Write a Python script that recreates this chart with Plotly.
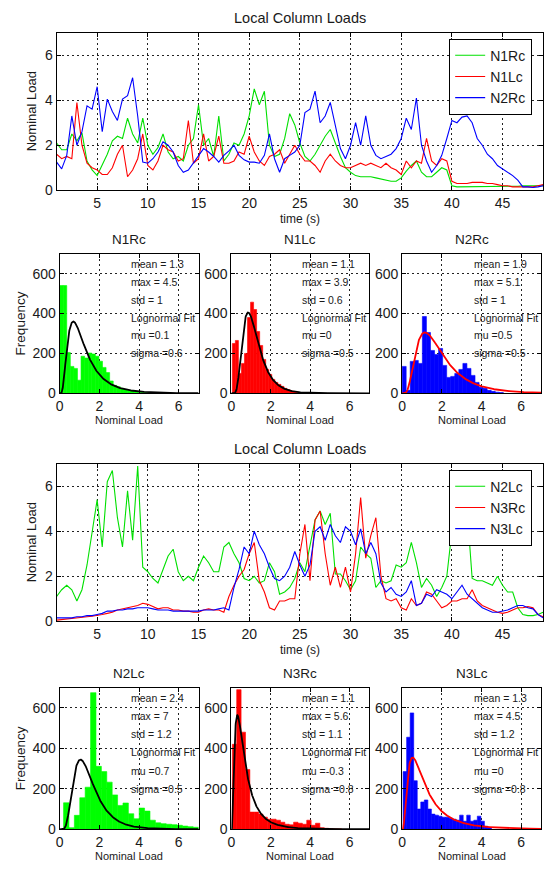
import numpy as np
import plotly.graph_objects as go

W, H = 556, 870
FONT = "Liberation Sans, Arial, sans-serif"
TXT = "#1a1a1a"

# ---------------- time series data (sampled every 0.5 s from t=1 to t=49) ----------------
time_s = [1.0 + 0.5 * i for i in range(97)]

n1rc = [2.1, 1.8, 1.8, 2.5, 2.2, 2.55, 1.3, 0.9, 0.65, 1.1,
        1.6, 2.2, 2.4, 2.3, 3.2, 2.5, 2.1, 3.2, 2.0, 1.6,
        1.9, 2.5, 1.7, 1.4, 1.5, 1.3, 2.0, 2.3, 3.8, 2.0,
        2.3, 1.5, 3.3, 1.3, 1.6, 2.1, 2.0, 2.5, 3.3, 4.5,
        3.8, 4.4, 2.0, 1.5, 1.6, 2.3, 3.4, 2.9, 2.1, 1.5,
        1.3, 1.6, 2.0, 2.4, 2.7, 2.1, 1.5, 1.0, 0.8, 0.65,
        0.6, 0.6, 0.6, 0.55, 0.5, 0.45, 0.4, 0.4, 0.55, 0.85,
        1.1, 1.3, 0.8, 0.6, 0.6, 0.8, 1.0, 0.9, 0.2, 0.15,
        0.15, 0.15, 0.15, 0.15, 0.15, 0.15, 0.15, 0.15, 0.15, 0.15,
        0.15, 0.18, 0.2, 0.2, 0.2, 0.2, 0.2]

n1lc = [1.6, 1.4, 1.5, 1.4, 3.9, 2.0, 1.2, 1.0, 0.9, 0.7,
        0.7, 1.0, 1.6, 2.0, 0.6, 0.9, 1.4, 2.5, 1.1, 0.9,
        1.3, 2.0, 1.8, 1.7, 1.3, 1.4, 3.1, 1.2, 1.4, 2.5,
        1.3, 1.5, 2.4, 1.2, 1.2, 1.3, 1.7, 1.6, 2.4, 1.7,
        1.3, 1.1, 1.5, 1.6, 1.8, 1.2, 1.6, 2.0, 1.6, 1.3,
        1.3, 1.1, 0.8, 1.3, 1.6, 1.3, 1.1, 1.0, 1.0, 1.1,
        1.2, 1.1, 1.2, 1.1, 1.0, 1.2, 1.0, 0.9, 0.7, 1.3,
        1.0, 1.3, 1.2, 2.3, 1.3, 1.1, 1.4, 1.3, 0.4, 0.3,
        0.3, 0.3, 0.35, 0.35, 0.35, 0.3, 0.3, 0.25, 0.2, 0.2,
        0.15, 0.15, 0.15, 0.15, 0.15, 0.2, 0.25]

n2rc = [1.25, 0.95, 1.55, 3.3, 2.0, 2.6, 3.75, 3.6, 4.6, 2.6,
        4.05, 3.5, 3.1, 4.05, 4.2, 5.0, 3.3, 1.25, 1.2, 1.4,
        1.7, 2.15, 2.0, 1.7, 1.1, 0.8, 0.9, 1.2, 1.55, 1.85,
        1.7, 1.5, 1.25, 1.55, 1.75, 2.0, 1.55, 1.35, 1.25, 1.25,
        1.2, 1.55, 2.5, 1.4, 0.8, 1.4, 1.55, 1.7, 2.0, 3.45,
        3.6, 4.4, 3.0, 3.3, 3.9, 2.9, 1.85, 1.4, 2.0, 3.0,
        2.0, 3.3, 2.0, 1.55, 1.4, 1.5, 1.6, 1.85, 2.3, 3.2,
        2.7, 4.1, 2.0, 1.3, 0.8, 1.1, 1.55, 2.3, 3.1, 3.0,
        3.25, 3.3, 3.0, 2.3, 2.0, 1.6, 1.4, 1.1, 0.95, 0.8,
        0.65, 0.45, 0.15, 0.15, 0.12, 0.15, 0.2]

n2lc = [1.1, 1.4, 1.6, 1.4, 0.9, 1.4, 2.5, 3.9, 5.4, 3.3,
        6.2, 6.7, 4.6, 3.3, 5.8, 3.6, 6.9, 2.4, 2.2, 1.9,
        1.7, 2.3, 2.9, 3.2, 2.2, 1.8, 2.0, 1.8, 2.4, 2.9,
        2.6, 2.2, 2.2, 3.3, 3.5, 3.0, 2.6, 1.9, 1.8, 2.0,
        1.7, 1.8, 2.6, 2.2, 1.2, 1.3, 1.5, 1.9, 2.6, 2.2,
        3.3, 4.5, 4.9, 4.3, 4.8, 2.1, 2.1, 1.8, 1.4, 1.8,
        3.3, 3.0, 2.8, 1.5, 1.8, 1.7, 1.8, 2.5, 2.4, 2.6,
        3.5, 2.6, 1.5, 1.9, 1.6, 1.1, 1.5, 2.0, 4.0, 5.0,
        5.5, 5.0, 1.9, 1.8, 1.8, 1.7, 1.6, 2.0, 1.6, 1.3,
        1.3, 0.6, 0.3, 0.25, 0.25, 0.3, 0.4]

n3rc = [0.05, 0.08, 0.1, 0.12, 0.15, 0.18, 0.2, 0.22, 0.25, 0.3,
        0.35, 0.4, 0.5, 0.55, 0.6, 0.65, 0.7, 0.8, 0.75, 0.65,
        0.55, 0.6, 0.6, 0.5, 0.5, 0.45, 0.45, 0.4, 0.4, 0.5,
        0.55, 0.5, 0.5, 0.4, 1.1, 1.6, 2.0, 2.3, 3.0, 3.5,
        1.8, 1.3, 0.6, 0.5, 0.9, 0.9, 1.0, 1.0, 3.0, 4.3,
        1.8, 4.5, 4.9, 3.0, 1.6, 2.4, 1.5, 2.4, 1.3, 3.0,
        5.5, 2.8, 3.8, 4.6, 2.0, 1.0, 0.9, 1.0, 0.6, 0.5,
        1.0, 0.7, 0.8, 1.3, 1.2, 0.9, 0.6, 0.7, 0.9, 0.9,
        1.0, 1.0, 1.4, 0.9, 0.7, 0.6, 0.5, 0.4, 0.35, 0.4,
        0.5, 0.6, 0.6, 0.65, 0.6, 0.3, 0.2]

n3lc = [0.15, 0.15, 0.15, 0.15, 0.2, 0.2, 0.25, 0.25, 0.3, 0.35,
        0.45, 0.45, 0.5, 0.5, 0.55, 0.55, 0.6, 0.6, 0.6, 0.55,
        0.5, 0.5, 0.5, 0.45, 0.45, 0.45, 0.45, 0.45, 0.45, 0.5,
        0.5, 0.5, 0.55, 0.6, 0.5, 1.5, 2.3, 3.3, 3.0, 4.0,
        3.4, 3.0, 2.4, 1.9, 1.8, 2.0, 2.4, 3.1, 2.5, 2.0,
        2.5, 4.0, 4.2, 3.6, 4.3, 3.8, 3.5, 4.2, 4.0, 3.4,
        4.1, 3.0, 3.5, 3.0, 1.7, 1.3, 1.5, 1.2, 1.1, 1.3,
        1.8, 0.7, 0.8, 1.2, 1.1, 1.4, 1.3, 1.2, 1.0, 1.3,
        1.6, 1.2, 1.0, 0.8, 0.6, 0.5, 0.4, 0.4, 0.45, 0.5,
        0.6, 0.7, 0.7, 0.6, 0.55, 0.3, 0.15]

group1_names = ["N1Rc", "N1Lc", "N2Rc"]
group2_names = ["N2Lc", "N3Rc", "N3Lc"]
line_colors = ["#00e000", "#ff0000", "#0000ff"]

# ---------------- histogram data (25 bins each) ----------------
hist_names = ["N1Rc", "N1Lc", "N2Rc", "N2Lc", "N3Rc", "N3Lc"]
hist_colors = ["#00ff00", "#ff0000", "#0000ff", "#00ff00", "#ff0000", "#0000ff"]
fit_colors = ["black", "black", "#ff0000", "black", "black", "#ff0000"]
bin_lo = [0.0, 0.05, 0.0, 0.2, 0.05, 0.05]
bin_hi = [4.5, 3.9, 5.1, 7.0, 5.6, 4.5]
counts = [
    [540, 540, 205, 135, 125, 66, 186, 177, 202, 197, 186, 161, 130, 104, 62, 40, 33, 25, 20, 15, 12, 10, 6, 4, 3],
    [250, 265, 100, 150, 200, 380, 457, 420, 310, 240, 170, 120, 95, 70, 55, 45, 35, 25, 18, 12, 8, 6, 4, 3, 2],
    [135, 15, 160, 165, 150, 385, 305, 215, 195, 225, 140, 80, 85, 100, 120, 150, 125, 90, 55, 30, 25, 15, 10, 6, 4],
    [131, 8, 69, 156, 208, 675, 311, 285, 233, 170, 118, 130, 77, 52, 105, 90, 45, 32, 28, 25, 23, 20, 16, 13, 10],
    [420, 690, 480, 295, 85, 85, 75, 60, 50, 50, 45, 35, 25, 22, 35, 30, 25, 45, 20, 30, 8, 5, 3, 2, 2],
    [285, 455, 575, 240, 100, 135, 145, 100, 75, 70, 65, 60, 60, 55, 50, 45, 70, 40, 70, 40, 45, 65, 40, 15, 8],
]
stat_mean = ["1.3", "1.1", "1.9", "2.4", "1.1", "1.3"]
stat_max = ["4.5", "3.9", "5.1", "7", "5.6", "4.5"]
stat_std = ["1", "0.6", "1", "1.2", "1.1", "1.2"]
fit_mu_label = ["0.1", "0", "0.5", "0.7", "-0.3", "0"]
fit_sigma_label = ["0.6", "0.5", "0.5", "0.5", "0.8", "0.8"]
# parameters of the drawn lognormal curves
curve_mu = [0.05, 0.07, 0.5, 0.3, -0.55, 0.0]
curve_sigma = [0.65, 0.48, 0.6, 0.5, 0.8, 0.8]
curve_scale = [499, 466, 632, 514, 474, 517]

line_xticks = [5, 10, 15, 20, 25, 30, 35, 40, 45]
line_yticks = [0, 2, 4, 6]
hist_xticks = [0, 2, 4, 6]
hist_yticks = [0, 200, 400, 600]

# ---------------- layout geometry (pixels) ----------------
def px_x(a, b):
    return [a / W, b / W]

def px_y(top, bottom):
    return [1 - bottom / H, 1 - top / H]

LINE_X = (53, 543)
LINE_Y = [(33, 192), (468, 627)]
HIST_X = [(56, 196), (229, 368), (401, 541)]
HIST_Y = [(256, 397), (694, 837)]

fig = go.Figure()
layout = dict(width=W, height=H, margin=dict(l=0, r=0, t=0, b=0),
              paper_bgcolor="white", plot_bgcolor="white",
              font=dict(family=FONT, color=TXT), barmode="overlay")

def axis(domain, rng, tickvals, anchor, size):
    return dict(domain=domain, range=rng, tickvals=tickvals, anchor=anchor,
                showline=True, linecolor="black", linewidth=1, mirror="ticks",
                ticks="inside", ticklen=4, tickcolor="black",
                showgrid=True, gridcolor="#222222", gridwidth=1, griddash="2px,3px",
                zeroline=False, fixedrange=True,
                tickfont=dict(family=FONT, size=size, color=TXT))

annotations = []

def ann(text, xpx, ypx, size, angle=0):
    annotations.append(dict(text=text, x=xpx / W, y=1 - ypx / H, xref="paper", yref="paper",
                            showarrow=False, textangle=angle, xanchor="center", yanchor="middle",
                            font=dict(family=FONT, size=size, color=TXT)))

# ---------------- line plots ----------------
groups = [(group1_names, [n1rc, n1lc, n2rc]), (group2_names, [n2lc, n3rc, n3lc])]
for g, (names, series) in enumerate(groups):
    ai = 1 + 4 * g
    xa = "x" if ai == 1 else f"x{ai}"
    ya = "y" if ai == 1 else f"y{ai}"
    leg = "legend" if g == 0 else "legend2"
    for name, vals, col in zip(names, series, line_colors):
        fig.add_trace(go.Scatter(x=time_s, y=vals, mode="lines", name=name,
                                 line=dict(color=col, width=1.1), xaxis=xa, yaxis=ya,
                                 legend=leg, showlegend=True))
    layout["xaxis" if ai == 1 else f"xaxis{ai}"] = axis(px_x(*LINE_X), [1, 49], line_xticks, ya, 14)
    layout["yaxis" if ai == 1 else f"yaxis{ai}"] = axis(px_y(*LINE_Y[g]), [0, 7], line_yticks, xa, 14)
    top, bot = LINE_Y[g]
    cx = (LINE_X[0] + LINE_X[1]) / 2
    ann("Local Column Loads", cx, top - 15, 14.5)
    ann("time (s)", cx, bot + 29, 12)
    ann("Nominal Load", 28, (top + bot) / 2, 13, -90)
    layout[leg] = dict(x=532 / W, xanchor="right", y=1 - (top + 6) / H, yanchor="top",
                       bgcolor="white", bordercolor="black", borderwidth=1,
                       font=dict(family=FONT, size=14, color=TXT), tracegroupgap=0,
                       itemwidth=30)

# ---------------- histograms ----------------
xs = np.linspace(0.005, 7, 800)
for k in range(6):
    row, colidx = divmod(k, 3)
    ai = 2 + colidx + 4 * row
    xa, ya = f"x{ai}", f"y{ai}"
    w = (bin_hi[k] - bin_lo[k]) / len(counts[k])
    centers = [bin_lo[k] + (i + 0.5) * w for i in range(len(counts[k]))]
    fig.add_trace(go.Bar(x=centers, y=counts[k], width=w, xaxis=xa, yaxis=ya,
                         marker=dict(color=hist_colors[k], line=dict(color=hist_colors[k], width=0.6)),
                         showlegend=False))
    mu, sg = curve_mu[k], curve_sigma[k]
    pdf = np.exp(-(np.log(xs) - mu) ** 2 / (2 * sg ** 2)) / (xs * sg * np.sqrt(2 * np.pi))
    fig.add_trace(go.Scatter(x=xs, y=curve_scale[k] * pdf, mode="lines",
                             line=dict(color=fit_colors[k], width=1.8),
                             xaxis=xa, yaxis=ya, showlegend=False))
    x0, x1 = HIST_X[colidx]
    top, bot = HIST_Y[row]
    layout[f"xaxis{ai}"] = axis(px_x(x0, x1), [0, 7], hist_xticks, ya, 14)
    layout[f"yaxis{ai}"] = axis(px_y(top, bot), [0, 700], hist_yticks, xa, 14)
    ann(hist_names[k], (x0 + x1) / 2, top - 14, 13.5)
    ann("Nominal Load", (x0 + x1) / 2, bot + 27, 11)
    if colidx == 0:
        ann("Frequency", 17, (top + bot) / 2, 13.5, -90)
    lines = [f"mean = {stat_mean[k]}", f"max = {stat_max[k]}", f"std = {stat_std[k]}",
             "Lognormal Fit", f"mu ={fit_mu_label[k]}", f"sigma ={fit_sigma_label[k]}"]
    for i, t in enumerate(lines):
        annotations.append(dict(text=t, x=3.5, y=650 - 90 * i, xref=xa, yref=ya,
                                showarrow=False, xanchor="left", yanchor="middle",
                                font=dict(family=FONT, size=10.5, color=TXT)))

layout["annotations"] = annotations
fig.update_layout(**layout)
fig.write_html("out.html")
